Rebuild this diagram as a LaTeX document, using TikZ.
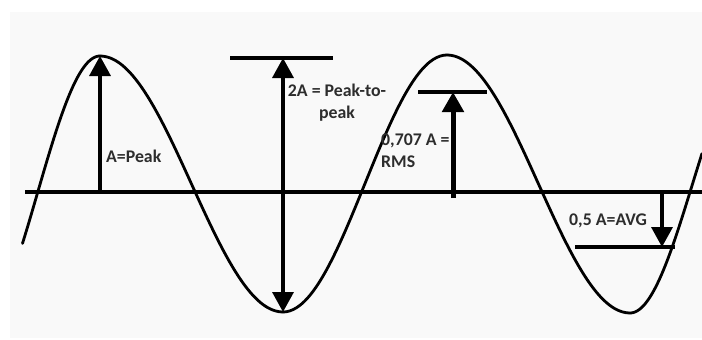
\documentclass[tikz,border=0pt]{standalone}
\usepackage{fontspec}
\setmainfont{Carlito}
\usepackage{tikz}
\usetikzlibrary{arrows.meta}
\definecolor{labelgray}{RGB}{45,45,45}
\definecolor{paper}{RGB}{249,249,249}

\begin{document}
\begin{tikzpicture}[
  x=1pt, y=-1pt,
  every node/.style={font=\fontsize{17.8}{22}\selectfont\bfseries,text=labelgray,inner sep=0pt},
  wave/.style={line width=2.8pt,line cap=round},
  axisline/.style={line width=3.2pt},
  bar/.style={line width=4pt},
  arr/.style={-{Triangle[length=20pt,width=21pt]},line width=3.5pt},
  barr/.style={{Triangle[length=20pt,width=21pt]}-{Triangle[length=20pt,width=21pt]},line width=3.5pt},
]
\useasboundingbox (0,0) rectangle (702,340);
\fill[white] (0,0) rectangle (702,340);
\fill[paper] (10,12) rectangle (702,338);

%% Sine wave, built from half-cosine pieces between extrema
\foreach \xa/\ya/\xb/\yb/\ta/\tb in {-25/330/100/56/0.38/1,
    100/56/283/312/0/1, 283/312/447/55/0/1,
    447/55/630/313/0/1, 630/313/755/55/0/0.576} {
  \draw[wave] plot[domain=\ta:\tb,samples=50,variable=\t,smooth]
    ({\xa+(\xb-\xa)*\t},{\ya+(\yb-\ya)*(1-cos(180*\t))/2});
}

%% Zero line
\coordinate (axL) at (25,192);
\coordinate (axR) at (702,192);
\draw[axisline] (axL) -- (axR);

%% ── Peak ─────────────────────────────────────────────────────────────
\coordinate (pkB) at (100,192);
\coordinate (pkT) at (100,56);
\draw[arr] (pkB) -- (pkT);
\node[anchor=base west] (pk) at (106,162) {A=Peak};

%% ── Peak-to-peak ─────────────────────────────────────────────────────
\coordinate (ppL) at (230,58);
\coordinate (ppR) at (333,58);
\draw[bar] (ppL) -- (ppR);
\coordinate (ppT) at (283,58);
\coordinate (ppB) at (283,312);
\draw[barr] (ppB) -- (ppT);
\node[anchor=base,align=center] (pp) at (337,118) {2A = Peak-to-\\peak};

%% ── RMS ──────────────────────────────────────────────────────────────
\coordinate (rmL) at (418,92);
\coordinate (rmR) at (487,92);
\draw[bar] (rmL) -- (rmR);
\coordinate (rmB) at (453,198);
\coordinate (rmT) at (453,92);
\draw[arr,line width=5pt] (rmB) -- (rmT);
\node[anchor=base west,align=left] (rms) at (381,167) {0,707 A =\\RMS};

%% ── Average ──────────────────────────────────────────────────────────
\coordinate (avL) at (575,247);
\coordinate (avR) at (675,247);
\draw[bar] (avL) -- (avR);
\coordinate (avT) at (662,194);
\coordinate (avB) at (662,247);
\draw[arr] (avT) -- (avB);
\node[anchor=base west] (avg) at (569,225) {0,5 A=AVG};

\end{tikzpicture}
\end{document}
